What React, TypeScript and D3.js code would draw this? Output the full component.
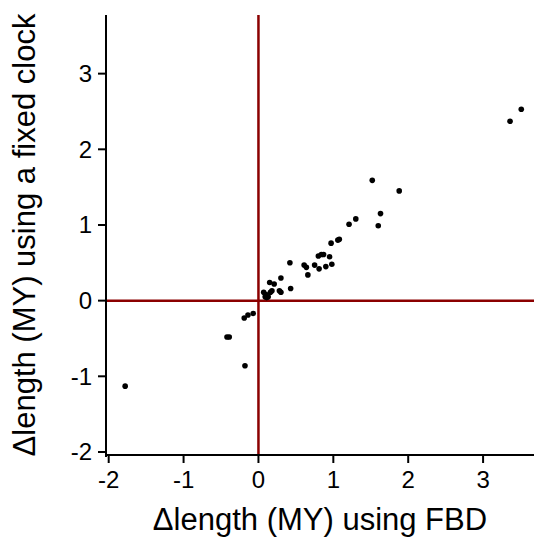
import React from "react";
import * as d3 from "d3";

const xTicks = [-2, -1, 0, 1, 2, 3];
const yTicks = [-2, -1, 0, 1, 2, 3];
const xTitle = "Δlength (MY) using FBD";
const yTitle = "Δlength (MY) using a fixed clock";

const fbd = [
  -1.78, -0.42, -0.39, -0.19, -0.14, -0.07, -0.18,
  1.52, 1.88, 1.63, 1.60, 1.30, 1.21, 1.08, 1.06, 0.97,
  0.80, 0.84, 0.87, 0.95, 0.98, 0.90, 0.81, 0.75, 0.61, 0.64, 0.66,
  0.42, 0.43, 0.30, 0.28, 0.30, 0.15, 0.21, 0.18, 0.16, 0.07,
  0.09, 0.13, 0.11, 0.10, 3.51, 3.36,
];
const fixedClock = [
  -1.13, -0.48, -0.48, -0.23, -0.19, -0.17, -0.86,
  1.59, 1.45, 1.15, 0.99, 1.08, 1.01, 0.81, 0.80, 0.76,
  0.59, 0.61, 0.61, 0.58, 0.48, 0.45, 0.42, 0.47, 0.47, 0.44, 0.34,
  0.50, 0.16, 0.30, 0.13, 0.11, 0.24, 0.22, 0.13, 0.11, 0.11,
  0.05, 0.05, 0.04, 0.08, 2.53, 2.37,
];

const W = 534;
const H = 539;
const font = "'Liberation Sans', Arial, Helvetica, sans-serif";

export default function App() {
  const x = d3.scaleLinear().domain([-2.036, 3.68]).range([106, 534]);
  const y = d3.scaleLinear().domain([-2.04, 3.775]).range([455, 15]);
  const [x0, x1] = x.range();
  const [yb, yt] = y.range();
  const red = "#8b0000";
  return (
    <svg
      width={W}
      height={H}
      style={{ position: "absolute", left: 0, top: 0, background: "#fff" }}
      fontFamily={font}
    >
      {/* reference lines */}
      <line x1={x0} x2={x1} y1={y(0)} y2={y(0)} stroke={red} strokeWidth={2.5} />
      <line x1={x(0)} x2={x(0)} y1={yt} y2={yb} stroke={red} strokeWidth={2.5} />
      {/* axes */}
      <line x1={x0} x2={x1} y1={yb} y2={yb} stroke="#000" strokeWidth={2} />
      <line x1={x0} x2={x0} y1={yt} y2={yb + 2} stroke="#000" strokeWidth={2} />
      {xTicks.map((t) => (
        <g key={"x" + t}>
          <line x1={x(t)} x2={x(t)} y1={yb} y2={yb + 8} stroke="#000" strokeWidth={2} />
          <text x={x(t)} y={488} fontSize={24} textAnchor="middle" fill="#000">
            {t}
          </text>
        </g>
      ))}
      {yTicks.map((t) => (
        <g key={"y" + t}>
          <line x1={x0 - 8} x2={x0} y1={y(t)} y2={y(t)} stroke="#000" strokeWidth={2} />
          <text x={92} y={y(t)} dy="0.35em" fontSize={24} textAnchor="end" fill="#000">
            {t}
          </text>
        </g>
      ))}
      {fbd.map((v, i) => (
        <circle key={i} cx={x(v)} cy={y(fixedClock[i])} r={2.8} fill="#000" />
      ))}
      <text x={320} y={530} fontSize={31} textAnchor="middle" fill="#000">
        {xTitle}
      </text>
      <text
        transform={`translate(35, ${(yt + yb) / 2}) rotate(-90)`}
        fontSize={31}
        textAnchor="middle"
        fill="#000"
      >
        {yTitle}
      </text>
    </svg>
  );
}
